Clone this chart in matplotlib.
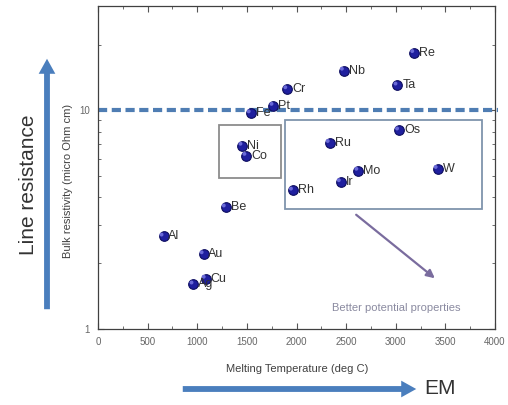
import matplotlib
matplotlib.use("Agg")
import matplotlib.pyplot as plt
from matplotlib.patches import Rectangle, FancyArrowPatch
from matplotlib.ticker import FixedLocator, NullFormatter, LogLocator

# Melting temperature (deg C) and bulk resistivity (micro Ohm cm) of metals
metals = ["Al", "Au", "Cu", "Ag", "Be", "Ni", "Co", "Fe", "Pt", "Cr",
          "Nb", "Ta", "Re", "Os", "Ru", "Mo", "W", "Ir", "Rh"]
melting_temp = [660, 1064, 1085, 962, 1287, 1455, 1495, 1538, 1768, 1907,
                2477, 3017, 3186, 3033, 2334, 2623, 3422, 2446, 1964]
resistivity = [2.65, 2.2, 1.7, 1.6, 3.6, 6.9, 6.2, 9.7, 10.5, 12.5,
               15.2, 13.0, 18.3, 8.1, 7.1, 5.3, 5.4, 4.7, 4.3]

x_ticks = [0, 500, 1000, 1500, 2000, 2500, 3000, 3500, 4000]
threshold = 10

W, H = 508, 405
fig = plt.figure(figsize=(W / 100, H / 100), dpi=100)
plt.rcParams['font.family'] = ['Liberation Sans', 'DejaVu Sans']

ax = fig.add_axes([98 / W, 1 - 329 / H, (495 - 98) / W, (329 - 6) / H])
ax.set_yscale('log')
ax.set_xlim(0, 4000)
ax.set_ylim(1, 30)

for s in ax.spines.values():
    s.set_color('#404040')
    s.set_linewidth(0.9)

ax.xaxis.set_major_locator(FixedLocator(x_ticks))
ax.xaxis.set_minor_locator(FixedLocator([250 + 500 * i for i in range(8)]))
ax.set_xticklabels([str(v) for v in x_ticks])
ax.yaxis.set_major_locator(FixedLocator([1, 10]))
ax.yaxis.set_minor_locator(LogLocator(base=10, subs=range(2, 10)))
ax.yaxis.set_minor_formatter(NullFormatter())
ax.set_yticklabels(['1', '10'])
ax.tick_params(which='both', direction='in', top=True, right=True,
               labelsize=7, labelcolor='#666666', color='#555555', pad=6)
ax.tick_params(which='major', length=4)
ax.tick_params(which='minor', length=2.5)

# threshold line
ax.plot([0, 4030], [threshold, threshold], color='#4f7db3', lw=3,
        dashes=(2.2, 1.1), zorder=2, clip_on=False)

# markers: dark sphere with a light highlight
ax.scatter(melting_temp, resistivity, s=48, color='#1f1f9e',
           edgecolor='#0c0c5e', linewidth=0.8, zorder=4)
ax.scatter([t - 20 for t in melting_temp], [r * 1.02 for r in resistivity],
           s=8, color='#6a6ad8', edgecolor='none', zorder=5)

for name, t, r in zip(metals, melting_temp, resistivity):
    ax.annotate(name, (t, r), xytext=(3.5, 0), textcoords='offset points',
                fontsize=9, color='#333333', va='center', ha='left', zorder=6)

# highlight boxes (figure pixel coordinates)
def pix_rect(x0, y0, x1, y1, color):
    fig.add_artist(Rectangle((x0 / W, 1 - y1 / H), (x1 - x0) / W, (y1 - y0) / H,
                             transform=fig.transFigure, fill=False,
                             edgecolor=color, lw=1.3, zorder=3))

pix_rect(219, 125, 281, 178, '#8c8c8c')
pix_rect(285, 120, 482, 209, '#7f94ac')

fig.add_artist(FancyArrowPatch((354 / W, 1 - 213 / H), (437 / W, 1 - 280 / H),
                               transform=fig.transFigure, arrowstyle='-|>',
                               mutation_scale=12, color='#7a6c9e', lw=1.6))
fig.text(396 / W, 1 - 308 / H, 'Better potential properties', fontsize=8,
         color='#8a8aa0', ha='center', va='center')

# axis titles
fig.text(297 / W, 1 - 369 / H, 'Melting Temperature (deg C)', fontsize=8,
         color='#404040', ha='center', va='center')
fig.text(68 / W, 1 - 181 / H, 'Bulk resistivity (micro Ohm cm)', fontsize=8,
         color='#404040', ha='center', va='center', rotation=90)
fig.text(28 / W, 1 - 185 / H, 'Line resistance', fontsize=15,
         color='#333333', ha='center', va='center', rotation=90)
fig.text(424 / W, 1 - 388 / H, 'EM', fontsize=15, color='#333333',
         ha='left', va='center')

# big direction arrows
arrow_kw = dict(transform=fig.transFigure,
                arrowstyle='simple,head_width=1.0,head_length=0.9,tail_width=0.35',
                mutation_scale=12, color='#4a7ebd', lw=0)
fig.add_artist(FancyArrowPatch((47 / W, 1 - 312 / H), (47 / W, 1 - 56 / H), **arrow_kw))
fig.add_artist(FancyArrowPatch((180 / W, 1 - 389 / H), (419 / W, 1 - 389 / H), **arrow_kw))

fig.savefig('out.png', dpi=100)
